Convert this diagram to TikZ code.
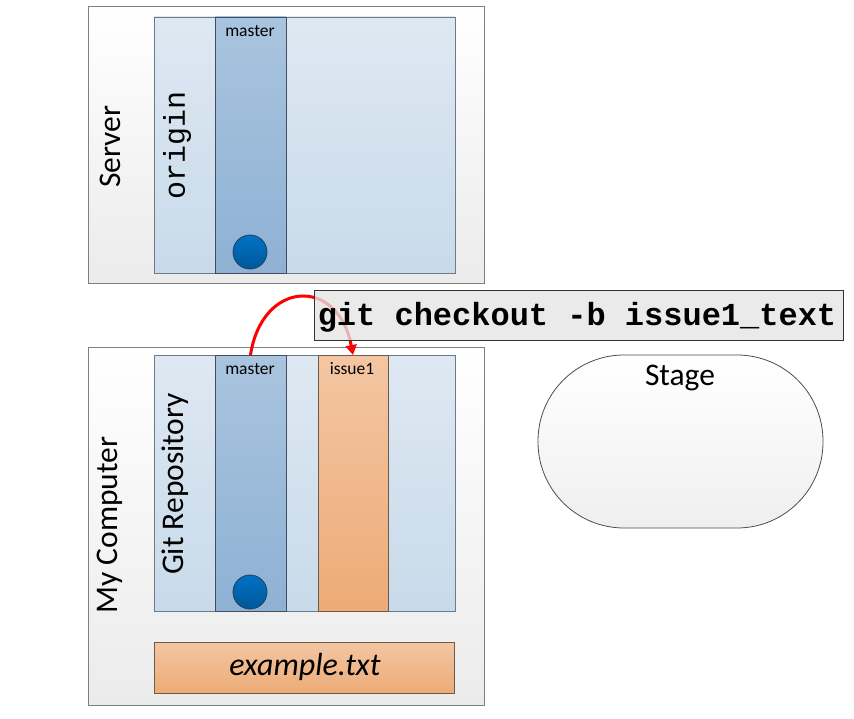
\documentclass[tikz,border=0pt]{standalone}
\usepackage{fontspec}
\setmainfont{Carlito}
\newfontfamily\monof{Liberation Mono}
\usetikzlibrary{arrows.meta}
\definecolor{outerB}{HTML}{7F7F7F}
\definecolor{outerBot}{HTML}{EBEBEB}
\definecolor{repoTop}{HTML}{DEE8F2}
\definecolor{repoBot}{HTML}{C8DAEA}
\definecolor{repoB}{HTML}{6B7B8B}
\definecolor{mTop}{HTML}{A9C4DE}
\definecolor{mBot}{HTML}{8EB1D4}
\definecolor{mB}{HTML}{3F4F5F}
\definecolor{oTop}{HTML}{F3C6A3}
\definecolor{oBot}{HTML}{EDAB76}
\definecolor{oB}{HTML}{6B5B4B}
\definecolor{cTop}{HTML}{0072C4}
\definecolor{cBot}{HTML}{00579A}
\definecolor{cB}{HTML}{1F3F5F}
\definecolor{cmdFill}{HTML}{E4E4E4}
\definecolor{arrowRed}{HTML}{FF0000}
\begin{document}
\begin{tikzpicture}[x=1pt,y=-1pt,
  every node/.style={inner sep=0pt, outer sep=0pt},
  outerbox/.style={draw=outerB, line width=1pt, top color=white, bottom color=outerBot, anchor=north west},
  repobox/.style={draw=repoB, line width=0.8pt, top color=repoTop, bottom color=repoBot, anchor=north west},
  mastercol/.style={draw=mB, line width=0.8pt, top color=mTop, bottom color=mBot, anchor=north west},
  orangebox/.style={draw=oB, line width=0.8pt, top color=oTop, bottom color=oBot, anchor=north west},
  commit/.style={circle, draw=cB, line width=0.8pt, top color=cTop, bottom color=cBot, minimum size=34pt},
  bigtext/.style={font=\fontsize{31.5}{36}\selectfont},
  smalltext/.style={font=\fontsize{17.5}{21}\selectfont},
  cmdbox/.style={draw=black!80, line width=1pt, fill=cmdFill, fill opacity=0.78, text opacity=1, anchor=north west},
  stagebox/.style={draw=black!70, line width=0.8pt, top color=white, bottom color=outerBot!80, rounded corners=86pt, anchor=north west},
  arrowline/.style={draw=arrowRed, line width=3pt, -{Triangle[length=10pt,width=11pt]}}
]
\useasboundingbox (0,0) rectangle (854,719);

% Server
\node[outerbox, minimum width=396pt, minimum height=277pt] (server) at (88,7) {};
\node[repobox, minimum width=301pt, minimum height=256pt] (origin) at (154,17) {};
\node[mastercol, minimum width=71pt, minimum height=256pt] (m1) at (215,17) {};
\node[commit] (c1) at (250,252) {};
\node[smalltext] (m1t) at (250,31) {master};
\node[bigtext, rotate=90] (servert) at (110,147) {Server};
\node[font=\monof\fontsize{30}{36}\selectfont, rotate=90] (origint) at (177,145) {origin};

% My Computer
\node[outerbox, minimum width=396pt, minimum height=358pt] (comp) at (88,347) {};
\node[repobox, minimum width=301pt, minimum height=256pt] (repo) at (154,355) {};
\node[mastercol, minimum width=71pt, minimum height=256pt] (m2) at (215,355) {};
\node[orangebox, minimum width=70pt, minimum height=256pt] (i1) at (318,355) {};
\node[commit] (c2) at (250,592) {};
\node[smalltext] (m2t) at (250,369) {master};
\node[smalltext] (i1t) at (352,369) {issue1};
\node[bigtext, rotate=90] (compt) at (110,525) {My Computer};
\node[bigtext, rotate=90] (repot) at (175,484) {Git Repository};
\node[orangebox, minimum width=300pt, minimum height=51pt] (ex) at (154,642) {};
\node[font=\itshape\fontsize{32}{36}\selectfont] (ext) at (305,667) {example.txt};

% Stage
\node[stagebox, minimum width=285pt, minimum height=173pt] (stage) at (538,355) {};
\node[bigtext] (staget) at (680,378) {Stage};

% Arrow
\draw[arrowline] (m2.north) .. controls (262,280) and (338,276) .. (i1.north);

% Command
\node[cmdbox, minimum width=529pt, minimum height=49pt] (cmd) at (314,291) {};
\node[font=\monof\bfseries\fontsize{32}{36}\selectfont] (cmdt) at (577,317) {git checkout -b issue1\_text};
\end{tikzpicture}
\end{document}
